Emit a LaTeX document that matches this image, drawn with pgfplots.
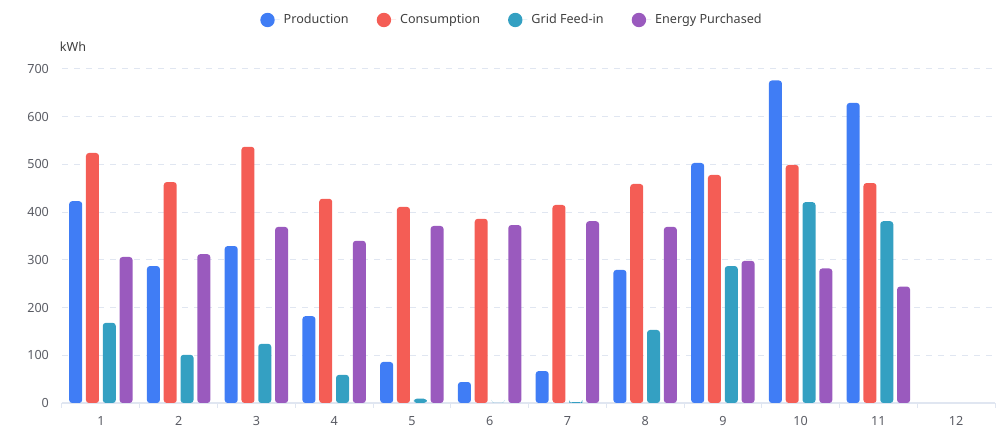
\documentclass[border=0pt]{standalone}
\usepackage{fontspec}
\setmainfont{Noto Sans}
\usepackage{pgfplots}
\pgfplotsset{compat=1.18}

\definecolor{cProd}{RGB}{64,125,245}
\definecolor{cCons}{RGB}{244,93,85}
\definecolor{cGrid}{RGB}{52,160,194}
\definecolor{cBuy}{RGB}{154,90,190}
\definecolor{cGridLine}{RGB}{224,230,241}
\definecolor{cLabel}{RGB}{90,92,100}

\begin{document}
\begin{tikzpicture}
\begin{axis}[
  at={(0,0)}, anchor=south west,
  scale only axis, width=466.5pt, height=167pt,
  ybar=1.9pt, bar width=6.5pt,
  xmin=0.5, xmax=12.5, ymin=0, ymax=700,
  xtick={1,...,12},
  minor xtick={0.5,1.5,...,12.5},
  ytick={0,100,...,700},
  axis x line*=bottom, axis y line*=left,
  x axis line style={draw=cGridLine, line width=0.6pt, -},
  y axis line style={draw=none},
  major tick length=0pt,
  minor tick length=2.5pt,
  tick align=outside,
  minor x tick style={draw=cGridLine, line width=0.5pt},
  ymajorgrids,
  grid style={cGridLine, dashed, line width=0.5pt},
  tick label style={font=\fontsize{6.3}{7}\selectfont, text=cLabel},
  /pgf/number format/assume math mode=true,
  yticklabel style={xshift=-3pt},
  xticklabel style={yshift=-3pt},
  legend columns=4,
  legend style={draw=none, fill=none,
    at={(0.4834,1.1467)}, anchor=center,
    font=\fontsize{6.3}{7}\selectfont, text=black!75,
    /tikz/every even column/.append style={column sep=12pt},
    nodes={inner xsep=2pt}},
  % round marker followed by a little extra room before the entry text
  legend image code/.code={\fill[#1] (0pt,0pt) circle (3.6pt);
    \path (3.6pt,0pt) -- (6.1pt,0pt);},
  every axis plot/.append style={draw=none, rounded corners=1.5pt},
]
\addplot[fill=cProd] coordinates {(1,423) (2,287) (3,329) (4,182) (5,86) (6,44) (7,67) (8,279) (9,503) (10,676) (11,629)};
\addplot[fill=cCons] coordinates {(1,524) (2,463) (3,537) (4,428) (5,411) (6,386) (7,415) (8,459) (9,478) (10,499) (11,461)};
\addplot[fill=cGrid] coordinates {(1,168) (2,101) (3,124) (4,59) (5,9) (6,0) (7,2) (8,153) (9,287) (10,421) (11,381)};
\addplot[fill=cBuy] coordinates {(1,306) (2,312) (3,369) (4,340) (5,371) (6,373) (7,381) (8,369) (9,298) (10,282) (11,244)};
\legend{Production, Consumption, Grid Feed-in, Energy Purchased}
\end{axis}
\node[font=\fontsize{6.3}{7}\selectfont, text=black!75] at (5.5pt,178pt) {kWh};
\path[use as bounding box] (-31pt,-15pt) rectangle (469pt,201.5pt);
\end{tikzpicture}
\end{document}
